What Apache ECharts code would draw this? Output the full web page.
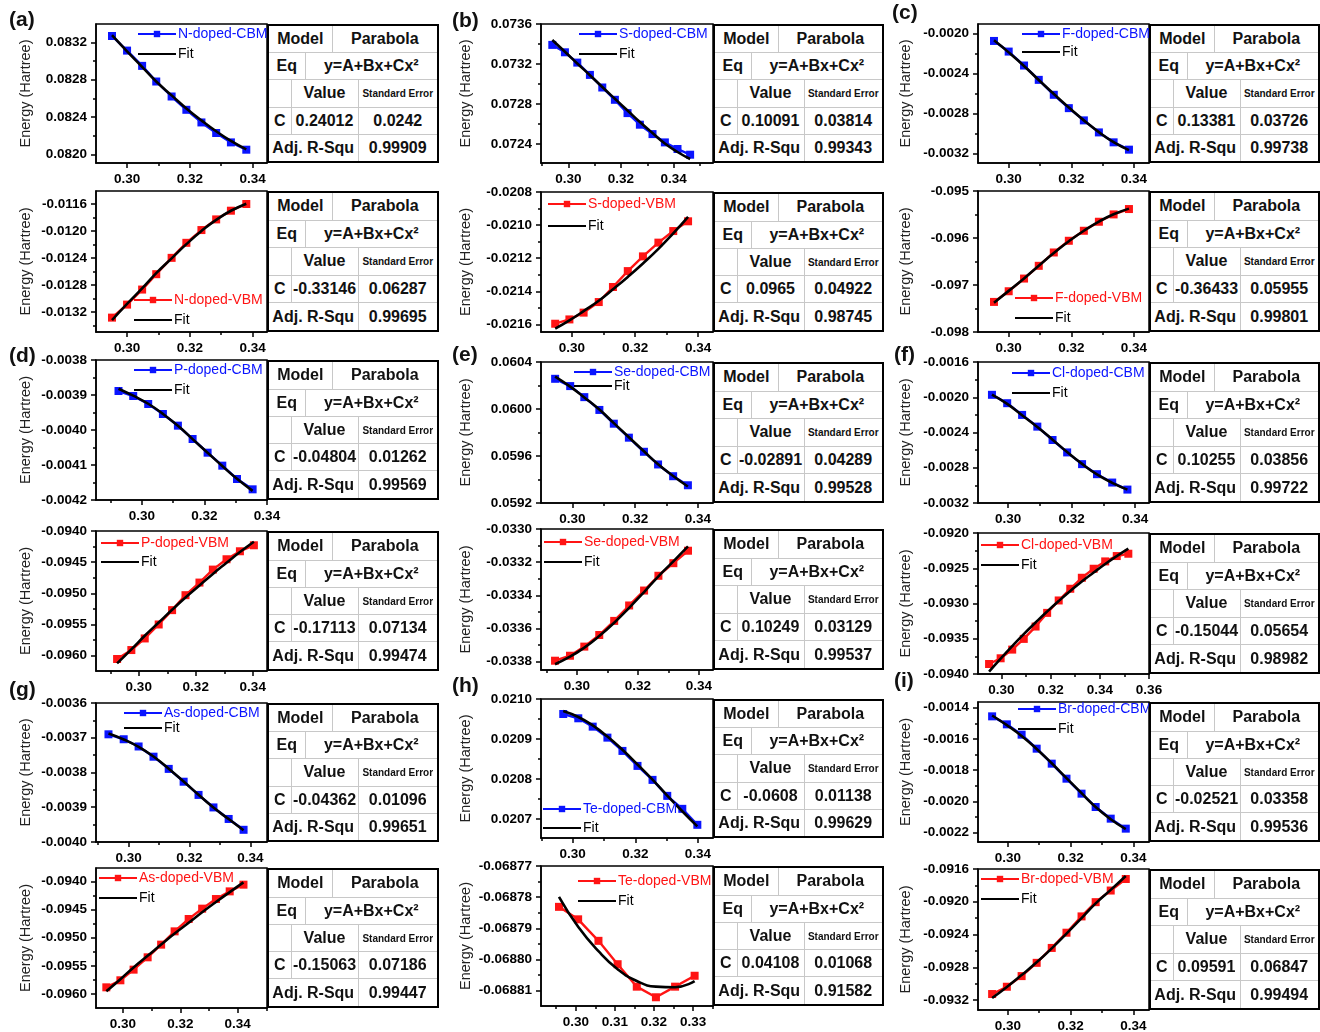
<!DOCTYPE html>
<html>
<head>
<meta charset="utf-8">
<title>Doped band-edge parabola fits</title>
<script src="https://cdn.jsdelivr.net/npm/echarts@6/dist/echarts.min.js"></script>
<style>
  body { margin: 0; background: #fff; }
  #main { position: absolute; left: 0; top: 0; width: 1320px; height: 1032px; }
  .fit-table {
    position: absolute; border-collapse: collapse; table-layout: fixed;
    border: 2px solid #000; font-family: "Liberation Sans", Arial, sans-serif;
    font-weight: bold; font-size: 16px; color: #111; background: #fff;
  }
  .fit-table td { border: 1.5px solid #c8c8c8; padding: 0; text-align: center; white-space: nowrap; overflow: hidden; }
  .fit-table td.se { font-size: 10px; }
</style>
</head>
<body>
<div id="main"></div>
<script>
var FONT = '"Liberation Sans", Arial, sans-serif';
var BLUE = '#0a14ff', RED = '#ff1414';

// x tick labels
var xTicksStd = ['0.30', '0.32', '0.34'];
var xTicksCl = ['0.30', '0.32', '0.34', '0.36'];
var xTicksTe = ['0.30', '0.31', '0.32', '0.33'];

// (a) N-doped
var nX = [0.2952, 0.3000, 0.3048, 0.3093, 0.3142, 0.3189, 0.3237, 0.3284, 0.3331, 0.3380];
var nCbmY = [0.083267, 0.083111, 0.082948, 0.082781, 0.082621, 0.082479, 0.082344, 0.082231, 0.082131, 0.082053];
var nCbmFit = [0.083275, 0.083103, 0.082938, 0.082781, 0.082633, 0.082494, 0.082366, 0.082250, 0.082147, 0.082057];
var nCbmTicks = ['0.0820', '0.0824', '0.0828', '0.0832'];
var nVbmY = [-0.013284, -0.013091, -0.012868, -0.012640, -0.012398, -0.012175, -0.011986, -0.011828, -0.011699, -0.011600];
var nVbmFit = [-0.013320, -0.013080, -0.012850, -0.012625, -0.012405, -0.012195, -0.012000, -0.011835, -0.011700, -0.011595];
var nVbmTicks = ['-0.0132', '-0.0128', '-0.0124', '-0.0120', '-0.0116'];

// (b) S-doped
var sCbmX = [0.2939, 0.2987, 0.3034, 0.3082, 0.3129, 0.3177, 0.3225, 0.3272, 0.3320, 0.3367, 0.3415, 0.3463];
var sCbmY = [0.073391, 0.073317, 0.073214, 0.073091, 0.072965, 0.072842, 0.072709, 0.072593, 0.072499, 0.072416, 0.072350, 0.072293];
var sCbmFit = [0.073440, 0.073322, 0.073205, 0.073088, 0.072970, 0.072852, 0.072735, 0.072620, 0.072510, 0.072405, 0.072320, 0.072250];
var sCbmTicks = ['0.0724', '0.0728', '0.0732', '0.0736'];
var sVbmX = [0.2947, 0.2992, 0.3037, 0.3085, 0.3130, 0.3177, 0.3225, 0.3274, 0.3321, 0.3368];
var sVbmY = [-0.021596, -0.021570, -0.021529, -0.021465, -0.021374, -0.021278, -0.021189, -0.021106, -0.021036, -0.020977];
var sVbmFit = [-0.021626, -0.021576, -0.021520, -0.021457, -0.021388, -0.021313, -0.021232, -0.021144, -0.021050, -0.020950];
var sVbmTicks = ['-0.0216', '-0.0214', '-0.0212', '-0.0210', '-0.0208'];

// (c) F-doped
var fX = [0.2953, 0.3000, 0.3049, 0.3096, 0.3144, 0.3192, 0.3240, 0.3288, 0.3335, 0.3384];
var fCbmY = [-0.002076, -0.002182, -0.002321, -0.002464, -0.002613, -0.002746, -0.002868, -0.002988, -0.003087, -0.003160];
var fCbmFit = [-0.002070, -0.002190, -0.002325, -0.002466, -0.002605, -0.002740, -0.002868, -0.002985, -0.003085, -0.003165];
var fCbmTicks = ['-0.0032', '-0.0028', '-0.0024', '-0.0020'];
var fVbmY = [-0.097360, -0.097133, -0.096863, -0.096592, -0.096308, -0.096059, -0.095846, -0.095654, -0.095498, -0.095384];
var fVbmFit = [-0.097380, -0.097125, -0.096860, -0.096590, -0.096320, -0.096070, -0.095845, -0.095650, -0.095495, -0.095375];
var fVbmTicks = ['-0.098', '-0.097', '-0.096', '-0.095'];

// (d) P-doped
var pCbmX = [0.2925, 0.2972, 0.3020, 0.3067, 0.3115, 0.3162, 0.3210, 0.3257, 0.3304, 0.3354];
var pCbmY = [-0.0038886, -0.0039029, -0.0039257, -0.0039543, -0.0039876, -0.0040257, -0.0040648, -0.0041019, -0.0041400, -0.0041695];
var pCbmFit = [-0.0038820, -0.0039020, -0.0039250, -0.0039540, -0.0039880, -0.0040260, -0.0040650, -0.0041030, -0.0041395, -0.0041740];
var pCbmTicks = ['-0.0042', '-0.0041', '-0.0040', '-0.0039', '-0.0038'];
var pVbmX = [0.2924, 0.2974, 0.3021, 0.3070, 0.3117, 0.3164, 0.3213, 0.3260, 0.3308, 0.3355, 0.3404];
var pVbmY = [-0.096053, -0.095909, -0.095723, -0.095499, -0.095269, -0.095029, -0.094827, -0.094619, -0.094453, -0.094325, -0.094229];
var pVbmFit = [-0.096123, -0.095898, -0.095680, -0.095468, -0.095263, -0.095065, -0.094873, -0.094688, -0.094510, -0.094338, -0.094173];
var pVbmTicks = ['-0.0960', '-0.0955', '-0.0950', '-0.0945', '-0.0940'];

// (e) Se-doped
var seCbmX = [0.2945, 0.2993, 0.3038, 0.3086, 0.3132, 0.3180, 0.3228, 0.3273, 0.3321, 0.3368];
var seCbmY = [0.060257, 0.060195, 0.060101, 0.059992, 0.059875, 0.059756, 0.059636, 0.059528, 0.059428, 0.059351];
var seCbmFit = [0.060275, 0.060190, 0.060098, 0.059995, 0.059880, 0.059760, 0.059640, 0.059530, 0.059430, 0.059340];
var seCbmTicks = ['0.0592', '0.0596', '0.0600', '0.0604'];
var seVbmX = [0.2928, 0.2977, 0.3024, 0.3073, 0.3122, 0.3171, 0.3220, 0.3267, 0.3316, 0.3364];
var seVbmY = [-0.033794, -0.033764, -0.033709, -0.033639, -0.033554, -0.033461, -0.033371, -0.033282, -0.033206, -0.033131];
var seVbmFit = [-0.033815, -0.033770, -0.033715, -0.033645, -0.033565, -0.033475, -0.033380, -0.033285, -0.033195, -0.033105];
var seVbmTicks = ['-0.0338', '-0.0336', '-0.0334', '-0.0332', '-0.0330'];

// (f) Cl-doped
var clCbmX = [0.2949, 0.2997, 0.3044, 0.3092, 0.3140, 0.3186, 0.3233, 0.3280, 0.3328, 0.3376];
var clCbmY = [-0.0019724, -0.0020674, -0.0022004, -0.0023334, -0.0024854, -0.0026260, -0.0027590, -0.0028730, -0.0029680, -0.0030478];
var clCbmFit = [-0.0019700, -0.0020750, -0.0022050, -0.0023380, -0.0024810, -0.0026220, -0.0027560, -0.0028750, -0.0029710, -0.0030480];
var clCbmTicks = ['-0.0032', '-0.0028', '-0.0024', '-0.0020', '-0.0016'];
var clVbmX = [0.2950, 0.2997, 0.3044, 0.3091, 0.3139, 0.3186, 0.3233, 0.3280, 0.3327, 0.3375, 0.3422, 0.3469, 0.3516];
var clVbmY = [-0.093858, -0.093777, -0.093654, -0.093502, -0.093327, -0.093133, -0.092957, -0.092791, -0.092635, -0.092507, -0.092403, -0.092327, -0.092294];
var clVbmFit = [-0.093967, -0.093782, -0.093604, -0.093434, -0.093270, -0.093114, -0.092965, -0.092823, -0.092688, -0.092561, -0.092440, -0.092327, -0.092221];
var clVbmTicks = ['-0.0940', '-0.0935', '-0.0930', '-0.0925', '-0.0920'];

// (g) As-doped
var asCbmX = [0.2934, 0.2984, 0.3033, 0.3082, 0.3132, 0.3181, 0.3230, 0.3279, 0.3329, 0.3378];
var asCbmY = [-0.0036901, -0.0037043, -0.0037251, -0.0037545, -0.0037896, -0.0038265, -0.0038645, -0.0039005, -0.0039337, -0.0039649];
var asCbmFit = [-0.0036880, -0.0037050, -0.0037260, -0.0037540, -0.0037890, -0.0038260, -0.0038640, -0.0039010, -0.0039340, -0.0039660];
var asCbmTicks = ['-0.0040', '-0.0039', '-0.0038', '-0.0037', '-0.0036'];
var asVbmX = [0.2942, 0.2991, 0.3037, 0.3086, 0.3133, 0.3180, 0.3229, 0.3276, 0.3324, 0.3372, 0.3420];
var asVbmY = [-0.095882, -0.095757, -0.095568, -0.095349, -0.095124, -0.094888, -0.094669, -0.094485, -0.094314, -0.094178, -0.094059];
var asVbmFit = [-0.095953, -0.095738, -0.095528, -0.095322, -0.095122, -0.094926, -0.094735, -0.094549, -0.094367, -0.094191, -0.094019];
var asVbmTicks = ['-0.0960', '-0.0955', '-0.0950', '-0.0945', '-0.0940'];

// (h) Te-doped
var teCbmX = [0.2970, 0.3018, 0.3064, 0.3111, 0.3159, 0.3207, 0.3255, 0.3302, 0.3350, 0.3398];
var teCbmY = [0.0209625, 0.0209517, 0.0209308, 0.0209033, 0.0208700, 0.0208325, 0.0207975, 0.0207575, 0.0207250, 0.0206850];
var teCbmFit = [0.0209700, 0.0209550, 0.0209340, 0.0209060, 0.0208730, 0.0208360, 0.0207980, 0.0207580, 0.0207190, 0.0206810];
var teCbmTicks = ['0.0207', '0.0208', '0.0209', '0.0210'];
var teVbmX = [0.2957, 0.3006, 0.3058, 0.3107, 0.3156, 0.3205, 0.3254, 0.3304];
var teVbmY = [-0.0687831, -0.0687871, -0.0687940, -0.0688015, -0.0688087, -0.0688121, -0.0688087, -0.0688052];
var teVbmFit = [-0.0687799, -0.0687895, -0.0687973, -0.0688031, -0.0688069, -0.0688087, -0.0688089, -0.0688069];
var teVbmTicks = ['-0.06881', '-0.06880', '-0.06879', '-0.06878', '-0.06877'];

// (i) Br-doped
var brX = [0.2950, 0.2997, 0.3044, 0.3092, 0.3140, 0.3187, 0.3235, 0.3280, 0.3328, 0.3376];
var brCbmY = [-0.0014555, -0.0015067, -0.0015728, -0.0016624, -0.0017583, -0.0018544, -0.0019503, -0.0020356, -0.0021103, -0.0021743];
var brCbmFit = [-0.0014500, -0.0015120, -0.0015810, -0.0016640, -0.0017560, -0.0018510, -0.0019470, -0.0020360, -0.0021140, -0.0021780];
var brCbmTicks = ['-0.0022', '-0.0020', '-0.0018', '-0.0016', '-0.0014'];
var brVbmY = [-0.093127, -0.093038, -0.092908, -0.092746, -0.092564, -0.092378, -0.092179, -0.092005, -0.091863, -0.091722];
var brVbmFit = [-0.093175, -0.093040, -0.092895, -0.092740, -0.092570, -0.092390, -0.092200, -0.092020, -0.091855, -0.091685];
var brVbmTicks = ['-0.0932', '-0.0928', '-0.0924', '-0.0920', '-0.0916'];

// fit tables, same order as panels below
var cValues = ['0.24012', '-0.33146', '0.10091', '0.0965', '0.13381', '-0.36433',
               '-0.04804', '-0.17113', '-0.02891', '0.10249', '0.10255', '-0.15044',
               '-0.04362', '-0.15063', '-0.0608', '0.04108', '-0.02521', '0.09591'];
var cErrors = ['0.0242', '0.06287', '0.03814', '0.04922', '0.03726', '0.05955',
               '0.01262', '0.07134', '0.04289', '0.03129', '0.03856', '0.05654',
               '0.01096', '0.07186', '0.01138', '0.01068', '0.03358', '0.06847'];
var adjR2 = ['0.99909', '0.99695', '0.99343', '0.98745', '0.99738', '0.99801',
             '0.99569', '0.99474', '0.99528', '0.99537', '0.99722', '0.98982',
             '0.99651', '0.99447', '0.99629', '0.91582', '0.99536', '0.99494'];

// layout
var COLS = [
  { plot: 96, plotW: 171, table: 267, tableW: 172, nameGap: 63 },
  { plot: 541, plotW: 172, table: 713, tableW: 171, nameGap: 68 },
  { plot: 978, plotW: 171, table: 1149, tableW: 171, nameGap: 65 }
];

var panels = [
  { name: 'N-doped-CBM', color: BLUE, col: 0, top: 24, h: 139, x: nX, y: nCbmY, fit: nCbmFit, yTicks: nCbmTicks, xTicks: xTicksStd, xr: [0.2901, 0.3446], yr: [0.081911, 0.083395], leg: [137, 27, 6] },
  { name: 'N-doped-VBM', color: RED, col: 0, top: 191, h: 141, x: nX, y: nVbmY, fit: nVbmFit, yTicks: nVbmTicks, xTicks: xTicksStd, xr: [0.2901, 0.3446], yr: [-0.013497, -0.011407], leg: [133, 293, 6] },
  { name: 'S-doped-CBM', color: BLUE, col: 1, top: 24, h: 139, x: sCbmX, y: sCbmY, fit: sCbmFit, yTicks: sCbmTicks, xTicks: xTicksStd, xr: [0.2896, 0.3550], yr: [0.072210, 0.073600], leg: [578, 27, 6] },
  { name: 'S-doped-VBM', color: RED, col: 1, top: 192, h: 140, x: sVbmX, y: sVbmY, fit: sVbmFit, yTicks: sVbmTicks, xTicks: xTicksStd, xr: [0.2902, 0.3447], yr: [-0.021646, -0.020800], leg: [547, 197, 8] },
  { name: 'F-doped-CBM', color: BLUE, col: 2, top: 24, h: 139, x: fX, y: fCbmY, fit: fCbmFit, yTicks: fCbmTicks, xTicks: xTicksStd, xr: [0.2902, 0.3448], yr: [-0.003293, -0.001907], leg: [1021, 27, 4] },
  { name: 'F-doped-VBM', color: RED, col: 2, top: 191, h: 141, x: fX, y: fVbmY, fit: fVbmFit, yTicks: fVbmTicks, xTicks: xTicksStd, xr: [0.2902, 0.3448], yr: [-0.098, -0.095], leg: [1014, 291, 6] },
  { name: 'P-doped-CBM', color: BLUE, col: 0, top: 360, h: 140, x: pCbmX, y: pCbmY, fit: pCbmFit, yTicks: pCbmTicks, xTicks: xTicksStd, xr: [0.2853, 0.3400], yr: [-0.0042, -0.0038], leg: [133, 363, 6] },
  { name: 'P-doped-VBM', color: RED, col: 0, top: 531, h: 140, x: pVbmX, y: pVbmY, fit: pVbmFit, yTicks: pVbmTicks, xTicks: xTicksStd, xr: [0.2850, 0.3450], yr: [-0.096245, -0.0940], leg: [100, 536, 5] },
  { name: 'Se-doped-CBM', color: BLUE, col: 1, top: 362, h: 141, x: seCbmX, y: seCbmY, fit: seCbmFit, yTicks: seCbmTicks, xTicks: xTicksStd, xr: [0.2900, 0.3448], yr: [0.0592, 0.0604], leg: [573, 365, 0] },
  { name: 'Se-doped-VBM', color: RED, col: 1, top: 529, h: 141, x: seVbmX, y: seVbmY, fit: seVbmFit, yTicks: seVbmTicks, xTicks: xTicksStd, xr: [0.2882, 0.3446], yr: [-0.033850, -0.0330], leg: [543, 535, 6] },
  { name: 'Cl-doped-CBM', color: BLUE, col: 2, top: 362, h: 141, x: clCbmX, y: clCbmY, fit: clCbmFit, yTicks: clCbmTicks, xTicks: xTicksStd, xr: [0.2905, 0.3444], yr: [-0.0032, -0.0016], leg: [1011, 366, 6] },
  { name: 'Cl-doped-VBM', color: RED, col: 2, top: 533, h: 141, x: clVbmX, y: clVbmY, fit: clVbmFit, yTicks: clVbmTicks, xTicks: xTicksCl, xr: [0.2905, 0.3600], yr: [-0.0940, -0.0920], leg: [980, 538, 6] },
  { name: 'As-doped-CBM', color: BLUE, col: 0, top: 703, h: 139, x: asCbmX, y: asCbmY, fit: asCbmFit, yTicks: asCbmTicks, xTicks: xTicksStd, xr: [0.2893, 0.3455], yr: [-0.0040, -0.0036], leg: [123, 706, 1] },
  { name: 'As-doped-VBM', color: RED, col: 0, top: 868, h: 140, x: asVbmX, y: asVbmY, fit: asVbmFit, yTicks: asVbmTicks, xTicks: xTicksStd, xr: [0.2906, 0.3502], yr: [-0.096249, -0.093763], leg: [98, 871, 6] },
  { name: 'Te-doped-CBM', color: BLUE, col: 1, top: 699, h: 139, x: teCbmX, y: teCbmY, fit: teCbmFit, yTicks: teCbmTicks, xTicks: xTicksStd, xr: [0.2899, 0.3448], yr: [0.020652, 0.0210], leg: [542, 802, 5] },
  { name: 'Te-doped-VBM', color: RED, col: 1, top: 866, h: 140, x: teVbmX, y: teVbmY, fit: teVbmFit, yTicks: teVbmTicks, xTicks: xTicksTe, xr: [0.2911, 0.3351], yr: [-0.0688149, -0.06877], leg: [577, 874, 6] },
  { name: 'Br-doped-CBM', color: BLUE, col: 2, top: 702, h: 140, x: brX, y: brCbmY, fit: brCbmFit, yTicks: brCbmTicks, xTicks: xTicksStd, xr: [0.2905, 0.3450], yr: [-0.0022597, -0.0013637], leg: [1017, 702, 6] },
  { name: 'Br-doped-VBM', color: RED, col: 2, top: 869, h: 141, x: brX, y: brVbmY, fit: brVbmFit, yTicks: brVbmTicks, xTicks: xTicksStd, xr: [0.2905, 0.3450], yr: [-0.093322, -0.0916], leg: [980, 872, 6] }
];

var panelLetters = [
  { text: '(a)', left: 9, top: 10 }, { text: '(b)', left: 452, top: 11 }, { text: '(c)', left: 892, top: 3 },
  { text: '(d)', left: 9, top: 346 }, { text: '(e)', left: 452, top: 345 }, { text: '(f)', left: 894, top: 345 },
  { text: '(g)', left: 9, top: 680 }, { text: '(h)', left: 452, top: 676 }, { text: '(i)', left: 894, top: 671 }
];

function decimals(s) { return s.split('.')[1].length; }
function minorTicks(vals, lo, hi) {
  var step = vals[1] - vals[0], out = [];
  for (var k = -1; k < vals.length; k++) {
    var v = vals[0] + (k + 0.5) * step;
    if (v > lo && v < hi) out.push(v);
  }
  return out;
}

var grids = [], xAxes = [], yAxes = [], series = [], legends = [];
var black = { color: '#000', width: 1.5 };
var labelStyle = { color: '#000', fontWeight: 'bold', fontSize: 13.5, fontFamily: FONT };

panels.forEach(function (p, i) {
  var c = COLS[p.col];
  grids.push({ left: c.plot, top: p.top, width: c.plotW, height: p.h, show: true,
    borderColor: '#000', borderWidth: 1.5, outerBoundsMode: 'none', containLabel: false });

  var xMaj = p.xTicks.map(Number), xDec = decimals(p.xTicks[0]);
  var yMaj = p.yTicks.map(Number), yDec = decimals(p.yTicks[0]);

  xAxes.push({ type: 'value', gridIndex: i, position: 'bottom', min: p.xr[0], max: p.xr[1],
    axisLine: { show: true, onZero: false, lineStyle: black },
    axisTick: { show: true, length: 5, lineStyle: black, customValues: xMaj },
    axisLabel: Object.assign({ customValues: xMaj, margin: 9,
      formatter: function (v) { return v.toFixed(xDec); } }, labelStyle),
    splitLine: { show: false } });
  xAxes.push({ type: 'value', gridIndex: i, position: 'bottom', min: p.xr[0], max: p.xr[1],
    axisLine: { show: false, onZero: false },
    axisTick: { show: true, length: 3, lineStyle: black, customValues: minorTicks(xMaj, p.xr[0], p.xr[1]) },
    axisLabel: { show: false }, splitLine: { show: false } });

  yAxes.push({ type: 'value', gridIndex: i, position: 'left', min: p.yr[0], max: p.yr[1],
    name: 'Energy (Hartree)', nameLocation: 'middle', nameGap: c.nameGap,
    nameTextStyle: { fontSize: 14.5, fontFamily: FONT, color: '#222' },
    axisLine: { show: true, onZero: false, lineStyle: black },
    axisTick: { show: true, length: 5, lineStyle: black, customValues: yMaj },
    axisLabel: Object.assign({ customValues: yMaj, margin: 9,
      formatter: function (v) { return v.toFixed(yDec); } }, labelStyle),
    splitLine: { show: false } });
  yAxes.push({ type: 'value', gridIndex: i, position: 'left', min: p.yr[0], max: p.yr[1],
    axisLine: { show: false, onZero: false },
    axisTick: { show: true, length: 3, lineStyle: black, customValues: minorTicks(yMaj, p.yr[0], p.yr[1]) },
    axisLabel: { show: false }, splitLine: { show: false } });

  var fitName = 'Fit ' + i;
  series.push({ type: 'line', name: p.name, xAxisIndex: 2 * i, yAxisIndex: 2 * i,
    data: p.x.map(function (x, k) { return [x, p.y[k]]; }),
    symbol: 'rect', symbolSize: 8, showAllSymbol: true,
    itemStyle: { color: p.color }, lineStyle: { color: p.color, width: 2.4 }, z: 2 });
  series.push({ type: 'line', name: fitName, xAxisIndex: 2 * i, yAxisIndex: 2 * i,
    data: p.x.map(function (x, k) { return [x, p.fit[k]]; }),
    symbol: 'none', smooth: true,
    itemStyle: { color: '#000' }, lineStyle: { color: '#000', width: 2.6 }, z: 3 });

  legends.push({ left: p.leg[0], top: p.leg[1], orient: 'vertical', itemGap: p.leg[2],
    itemWidth: 38, itemHeight: 8, padding: 0, selectedMode: false,
    textStyle: { fontSize: 14, fontFamily: FONT, lineHeight: 14, padding: [0, 0, 0, -3] },
    formatter: function (n) { return n.indexOf('Fit') === 0 ? 'Fit' : n; },
    data: [{ name: p.name, textStyle: { color: p.color } },
           { name: fitName, textStyle: { color: '#000' }, itemStyle: { opacity: 0 } }] });
});

var chart = echarts.init(document.getElementById('main'));
chart.setOption({
  animation: false,
  grid: grids, xAxis: xAxes, yAxis: yAxes, series: series, legend: legends,
  graphic: panelLetters.map(function (l) {
    return { type: 'text', left: l.left, top: l.top,
      style: { text: l.text, font: 'bold 21px ' + FONT, fill: '#111' } };
  })
});

// parabola fit tables next to each plot
panels.forEach(function (p, k) {
  var c = COLS[p.col];
  var t = document.createElement('table');
  t.className = 'fit-table';
  t.style.left = c.table + 'px';
  t.style.top = p.top + 'px';
  t.style.width = c.tableW + 'px';
  t.style.height = p.h + 'px';
  t.innerHTML =
    '<colgroup><col style="width:23px"><col style="width:14px"><col style="width:27px"><col style="width:26px"><col></colgroup>' +
    '<tr><td colspan="3">Model</td><td colspan="2">Parabola</td></tr>' +
    '<tr><td colspan="2">Eq</td><td colspan="3">y=A+Bx+Cx²</td></tr>' +
    '<tr><td></td><td colspan="3">Value</td><td class="se">Standard Error</td></tr>' +
    '<tr><td>C</td><td colspan="3">' + cValues[k] + '</td><td>' + cErrors[k] + '</td></tr>' +
    '<tr><td colspan="4">Adj. R-Squ</td><td>' + adjR2[k] + '</td></tr>';
  document.body.appendChild(t);
});
</script>
</body>
</html>
